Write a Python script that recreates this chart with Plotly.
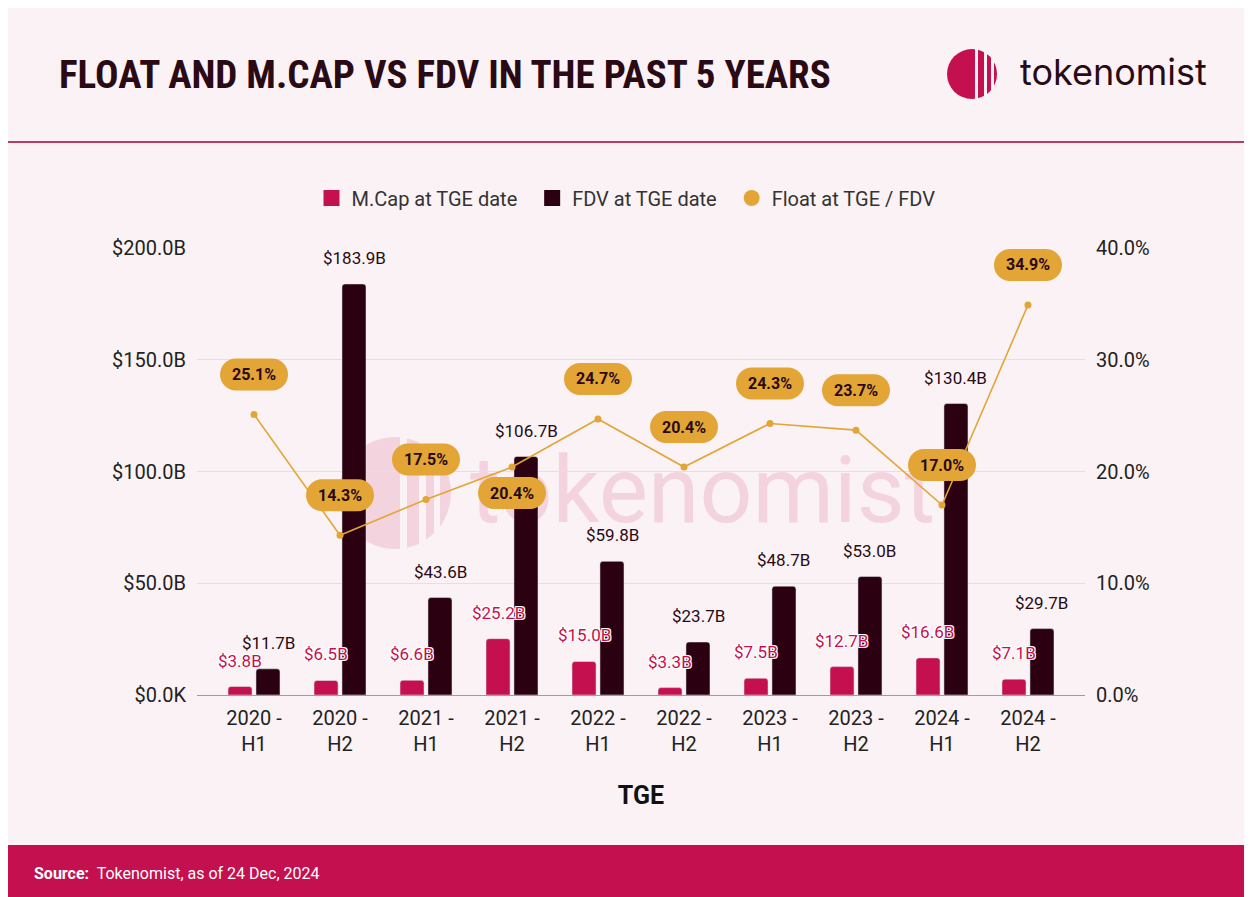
import base64

import plotly.graph_objects as go

# data
categories = ["2020 - H1", "2020 - H2", "2021 - H1", "2021 - H2", "2022 - H1",
              "2022 - H2", "2023 - H1", "2023 - H2", "2024 - H1", "2024 - H2"]
mcap_b = [3.8, 6.5, 6.6, 25.2, 15.0, 3.3, 7.5, 12.7, 16.6, 7.1]
fdv_b = [11.7, 183.9, 43.6, 106.7, 59.8, 23.7, 48.7, 53.0, 130.4, 29.7]
float_pct = [25.1, 14.3, 17.5, 20.4, 24.7, 20.4, 24.3, 23.7, 17.0, 34.9]
left_ticks = [0, 50, 100, 150, 200]
left_tick_labels = ["$0.0K", "$50.0B", "$100.0B", "$150.0B", "$200.0B"]
right_ticks = [0, 10, 20, 30, 40]
right_tick_labels = ["0.0%", "10.0%", "20.0%", "30.0%", "40.0%"]

# pill labels that sit under their point instead of above
pill_below = {"2021 - H2"}

COLOURS = {
    'bg': '#faf2f4',
    'mcap': '#c4104f',
    'fdv': '#2b0010',
    'float': '#e2a536',
    'text': '#2a0a14',
    'grid': '#e8dde1',
    'footer': '#c4104f',
}
FONT = "Roboto, 'Noto Sans', Arial, sans-serif"

# the page puts the figure 8px in from the top-left corner
OFF = 8
W, H = 1260, 897
ML, MR, MT, MB = 189, 183, 240, 210
PW, PH = W - ML - MR, H - MT - MB


def px_x(p):
    # p is a page x position
    return (p - OFF - ML) / PW


def px_y(p):
    return (H - MB - (p - OFF)) / PH


def pill_path(cy, hw=34, hh=16):
    k = 0.5523 * hh
    r = hh
    return (f"M {-hw + r},{cy - hh} L {hw - r},{cy - hh} "
            f"C {hw - r + k},{cy - hh} {hw},{cy - k} {hw},{cy} "
            f"C {hw},{cy + k} {hw - r + k},{cy + hh} {hw - r},{cy + hh} "
            f"L {-hw + r},{cy + hh} "
            f"C {-hw + r - k},{cy + hh} {-hw},{cy + k} {-hw},{cy} "
            f"C {-hw},{cy - k} {-hw + r - k},{cy - hh} {-hw + r},{cy - hh} Z")


fig = go.Figure()

fig.add_trace(go.Bar(
    x=categories, y=mcap_b, name="M.Cap at TGE date", showlegend=False,
    marker=dict(color=COLOURS['mcap'], cornerradius=3),
))
fig.add_trace(go.Bar(
    x=categories, y=fdv_b, name="FDV at TGE date", showlegend=False,
    marker=dict(color=COLOURS['fdv'], cornerradius=3),
))
fig.add_trace(go.Scatter(
    x=categories, y=float_pct, yaxis='y2', mode='lines+markers',
    line=dict(color=COLOURS['float'], width=1.6),
    marker=dict(color=COLOURS['float'], size=7),
    showlegend=False,
))

# legend entries only, with big symbols
pad = "\u00a0\u00a0"
for name, colour, symbol in [("M.Cap at TGE date", COLOURS['mcap'], 'square'),
                             ("FDV at TGE date", COLOURS['fdv'], 'square'),
                             ("Float at TGE / FDV", COLOURS['float'], 'circle')]:
    fig.add_trace(go.Scatter(
        x=[None], y=[None], mode='markers', name=name + pad,
        marker=dict(color=colour, size=20, symbol=symbol),
    ))

annotations = []
shapes = []

# bar value labels
outline = ("1px 1px 0 #fff, -1px -1px 0 #fff, 1px -1px 0 #fff, -1px 1px 0 #fff")
for i, cat in enumerate(categories):
    annotations.append(dict(
        x=cat, y=mcap_b[i], xref='x', yref='y', text=f"${mcap_b[i]:.1f}B",
        showarrow=False, xshift=-14, yshift=26,
        font=dict(family=FONT, size=17, color=COLOURS['mcap'], shadow=outline),
    ))
    annotations.append(dict(
        x=cat, y=fdv_b[i], xref='x', yref='y', text=f"${fdv_b[i]:.1f}B",
        showarrow=False, xshift=14, yshift=26,
        font=dict(family=FONT, size=17, color=COLOURS['text']),
    ))

# float pills
for i, cat in enumerate(categories):
    dy = -26 if cat in pill_below else 40
    shapes.append(dict(
        type='path', xref='x', yref='y2', xsizemode='pixel', ysizemode='pixel',
        xanchor=i, yanchor=float_pct[i], path=pill_path(dy),
        fillcolor=COLOURS['float'], line=dict(width=0), layer='above',
    ))
    annotations.append(dict(
        x=cat, y=float_pct[i], xref='x', yref='y2', text=f"<b>{float_pct[i]:.1f}%</b>",
        showarrow=False, yshift=dy,
        font=dict(family=FONT, size=16, color=COLOURS['text']),
    ))

# header rule and footer band
shapes += [
    dict(type='line', xref='paper', yref='paper', x0=px_x(OFF), x1=px_x(W + OFF),
         y0=px_y(142), y1=px_y(142), line=dict(color='#b73a68', width=2)),
    dict(type='rect', xref='paper', yref='paper', x0=px_x(OFF), x1=px_x(W + OFF),
         y0=px_y(845), y1=px_y(H + OFF), fillcolor=COLOURS['footer'], line=dict(width=0)),
]

# header logo: disc with vertical cuts
cx, cy, r = 972, 74, 25
shapes.append(dict(type='circle', xref='paper', yref='paper',
                   x0=px_x(cx - r), x1=px_x(cx + r), y0=px_y(cy + r), y1=px_y(cy - r),
                   fillcolor=COLOURS['mcap'], line=dict(width=0)))
for gx0, gx1 in [(975, 978), (984, 987), (991, 994), (997, 1000)]:
    shapes.append(dict(type='rect', xref='paper', yref='paper',
                       x0=px_x(gx0), x1=px_x(gx1), y0=px_y(cy + r + 1), y1=px_y(cy - r - 1),
                       fillcolor=COLOURS['bg'], line=dict(width=0)))

annotations += [
    dict(xref='paper', yref='paper', x=px_x(57), y=px_y(75), xanchor='left', yanchor='middle',
         text="<b>FLOAT AND M.CAP VS FDV IN THE PAST 5 YEARS</b>", showarrow=False,
         font=dict(family="'Roboto Condensed', 'DejaVu Sans Condensed', Roboto, sans-serif",
                   size=39, color=COLOURS['text'])),
    dict(xref='paper', yref='paper', x=px_x(1018), y=px_y(72), xanchor='left', yanchor='middle',
         text="tokenomist", showarrow=False,
         font=dict(family="Inter, Roboto, sans-serif", size=36, color=COLOURS['text'])),
    dict(xref='paper', yref='paper', x=px_x(32), y=px_y(873), xanchor='left', yanchor='middle',
         text="<b>Source:</b>  Tokenomist, as of 24 Dec, 2024", showarrow=False,
         font=dict(family=FONT, size=16, color='white')),
]

# faded watermark behind the bars
wm_x0, wm_y0, wm_w, wm_h = 330, 425, 620, 140
svg = f"""<svg xmlns='http://www.w3.org/2000/svg' width='{wm_w}' height='{wm_h}' viewBox='0 0 {wm_w} {wm_h}'>
<defs><mask id='m'><rect width='{wm_w}' height='{wm_h}' fill='white'/>
<rect x='70' y='0' width='7' height='{wm_h}' fill='black'/>
<rect x='89' y='0' width='7' height='{wm_h}' fill='black'/>
<rect x='104' y='0' width='6' height='{wm_h}' fill='black'/>
</mask></defs>
<g opacity='0.13' fill='{COLOURS['mcap']}'>
<circle cx='65' cy='68' r='56' mask='url(#m)'/>
<text x='140' y='97' font-family='Roboto, Noto Sans, sans-serif' font-size='93'>tokenomist</text>
</g></svg>"""
wm_src = "data:image/svg+xml;base64," + base64.b64encode(svg.encode()).decode()

fig.add_layout_image(dict(
    source=wm_src, xref='paper', yref='paper', x=px_x(wm_x0), y=px_y(wm_y0),
    sizex=wm_w / PW, sizey=wm_h / PH, xanchor='left', yanchor='top',
    sizing='stretch', layer='below',
))

fig.update_layout(
    width=W, height=H,
    margin=dict(l=ML, r=MR, t=MT, b=MB),
    paper_bgcolor=COLOURS['bg'],
    plot_bgcolor='rgba(0,0,0,0)',
    font=dict(family=FONT, color=COLOURS['text']),
    barmode='group', bargap=0.35, bargroupgap=0.14,
    showlegend=True,
    legend=dict(orientation='h', x=px_x(631), y=px_y(198), xanchor='center', yanchor='middle',
                font=dict(family=FONT, size=20, color='#333'), bgcolor='rgba(0,0,0,0)',
                itemsizing='trace', traceorder='normal'),
    shapes=shapes,
    annotations=annotations,
)

fig.update_xaxes(
    range=[-0.663, 9.663],
    tickvals=categories,
    ticktext=[c.replace(" - ", " -<br>") for c in categories],
    tickfont=dict(family=FONT, size=20, color='#222'),
    showline=True, linecolor='#a09a9c', linewidth=1,
    showgrid=False, ticks='', ticklabelstandoff=5,
    title=dict(text="<b>TGE</b>", font=dict(family=FONT, size=25, color='#111'), standoff=31),
)

fig.update_layout(
    yaxis=dict(
        range=[0, 200], tickvals=left_ticks, ticktext=left_tick_labels,
        tickfont=dict(family=FONT, size=20, color='#222'),
        gridcolor=COLOURS['grid'], zeroline=False, ticks='', ticklabelstandoff=10,
    ),
    yaxis2=dict(
        range=[0, 40], tickvals=right_ticks, ticktext=right_tick_labels,
        overlaying='y', side='right', showgrid=False, zeroline=False,
        tickfont=dict(family=FONT, size=20, color='#222'), ticks='', ticklabelstandoff=10,
    ),
)

fig.write_html("out.html")
